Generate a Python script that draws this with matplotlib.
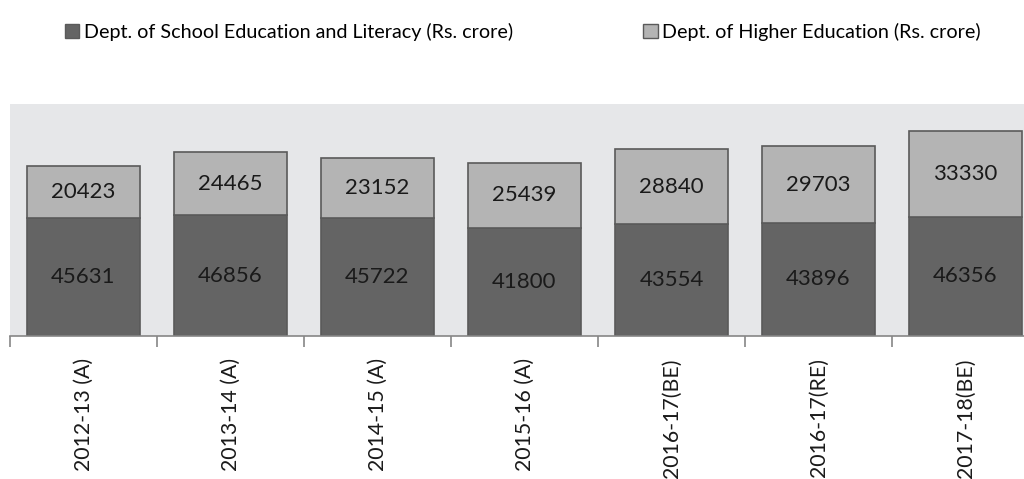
import matplotlib
matplotlib.use("Agg")
import matplotlib.pyplot as plt
from matplotlib.patches import Patch
import numpy as np

plt.rcParams['font.family'] = ['Lato', 'DejaVu Sans']

categories = ["2012-13 (A)", "2013-14 (A)", "2014-15 (A)", "2015-16 (A)",
              "2016-17(BE)", "2016-17(RE)", "2017-18(BE)"]
school = [45631, 46856, 45722, 41800, 43554, 43896, 46356]
higher = [20423, 24465, 23152, 25439, 28840, 29703, 33330]
series_names = ["Dept. of School Education and Literacy (Rs. crore)",
                "Dept. of Higher Education (Rs. crore)"]

dark = "#646464"
light = "#b4b4b4"
edge = "#5a5a5a"
bg = "#e6e7e9"

fig = plt.figure(figsize=(10.24, 4.79), dpi=100)
ax = fig.add_axes([10/1024, (479-336)/479, 1029/1024, 232/479])
ax.set_facecolor(bg)

x = np.arange(len(categories))
w = 0.775
ax.bar(x, school, width=w, color=dark, edgecolor=edge, linewidth=1.2, zorder=2)
ax.bar(x, higher, width=w, bottom=school, color=light, edgecolor=edge, linewidth=1.2, zorder=2)

for i in range(len(x)):
    ax.text(x[i], school[i]/2, str(school[i]), ha='center', va='center', fontsize=16, color='#1a1a1a')
    ax.text(x[i], school[i] + higher[i]/2, str(higher[i]), ha='center', va='center', fontsize=16, color='#1a1a1a')

ax.set_xlim(-0.5, len(categories) - 0.5)
ax.set_ylim(0, 90000)
ax.set_yticks([])
for s in ['left', 'right', 'top']:
    ax.spines[s].set_visible(False)
ax.spines['bottom'].set_color('#868686')
ax.spines['bottom'].set_linewidth(1.2)

ax.set_xticks(x)
ax.set_xticklabels(categories, rotation=90, fontsize=15.3, color='#1a1a1a')
ax.tick_params(axis='x', which='major', length=0, pad=16)
ax.set_xticks(np.arange(-0.5, len(categories), 1), minor=True)
ax.tick_params(axis='x', which='minor', length=8, width=1.2, color='#868686')

handles = [Patch(facecolor=dark, edgecolor=edge), Patch(facecolor=light, edgecolor=edge)]
fig.legend(handles, series_names, loc='center', bbox_to_anchor=(523/1024, 1-32/479), ncol=2,
           frameon=False, fontsize=14.2, handlelength=0.72, handleheight=0.72,
           handletextpad=0.25, columnspacing=6.6)

fig.savefig("out.png", dpi=100)
